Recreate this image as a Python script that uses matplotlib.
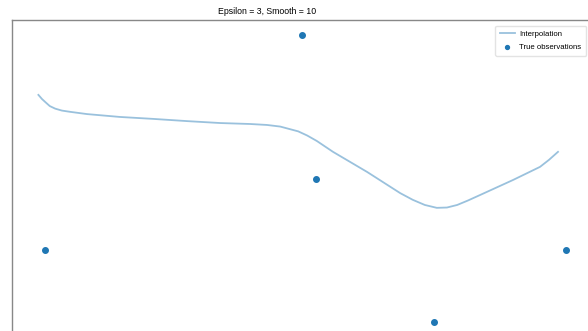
import matplotlib
matplotlib.use("Agg")
import matplotlib.pyplot as plt
import numpy as np

# observed points
obs_x = [0.55, 4.83, 5.07, 7.03, 9.23]
obs_y = [2.81, 9.53, 5.03, 0.56, 2.81]

# RBF interpolation curve (epsilon=3, smooth=10)
interp_x = [0.44, 0.50, 0.57, 0.63, 0.72, 0.83, 0.97, 1.25, 1.80, 2.35, 2.92,
            3.47, 3.97, 4.25, 4.47, 4.63, 4.77, 4.92, 5.08, 5.35, 5.92, 6.47,
            6.68, 6.88, 7.08, 7.25, 7.42, 7.60, 7.80, 8.35, 8.80, 8.95, 9.10]
interp_y = [7.66, 7.53, 7.41, 7.31, 7.23, 7.17, 7.13, 7.06, 6.97, 6.91, 6.84,
            6.78, 6.75, 6.72, 6.67, 6.59, 6.52, 6.39, 6.22, 5.88, 5.25, 4.59,
            4.38, 4.22, 4.13, 4.14, 4.22, 4.36, 4.53, 5.00, 5.41, 5.63, 5.88]

title = "Epsilon = 3, Smooth = 10"

plt.rcParams['font.family'] = ['Liberation Sans', 'DejaVu Sans']

W, H = 588, 331
fig = plt.figure(figsize=(W / 100, H / 100), dpi=100)
ax = fig.add_axes([12 / W, (H - 340) / H, 600 / W, 320 / H])

line, = ax.plot(interp_x, interp_y, color='#1f77b4', alpha=0.45, lw=1.3,
                label='Interpolation', solid_joinstyle='round')
pts, = ax.plot(obs_x, obs_y, 'o', color='#1f77b4', ms=4, label='True observations')

ax.set_xlim(0, 10)
ax.set_ylim(0, 10)
ax.set_xticks([])
ax.set_yticks([])
for s in ax.spines.values():
    s.set_color('#888888')
    s.set_linewidth(1.0)

fig.text(267 / W, 1 - 12 / H, title, ha='center', va='center', fontsize=6.3)

fig.legend(handles=[line, pts], loc='upper right',
           bbox_to_anchor=(590 / W, 1 - 22 / H), fontsize=5.6,
           frameon=True, framealpha=0.8, edgecolor='#dddddd', fancybox=True,
           borderpad=0.6, handlelength=1.9, labelspacing=0.75, markerscale=0.7,
           handletextpad=0.6)

fig.savefig('out.png', dpi=100)
